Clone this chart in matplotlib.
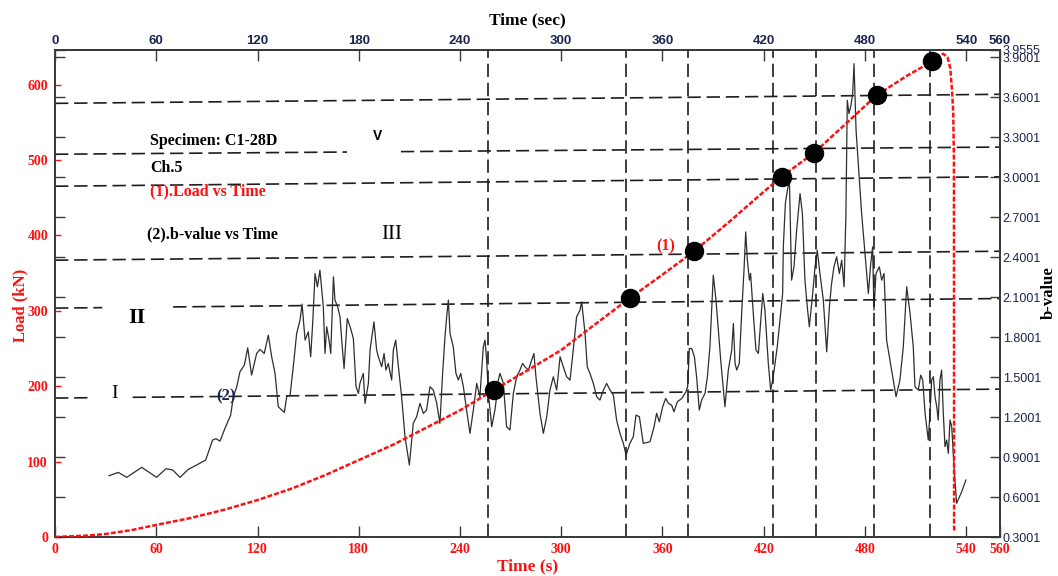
#!/usr/bin/env python3
# Load and b-value against time for specimen C1-28D (channel 5)

import matplotlib
matplotlib.use("Agg")
from matplotlib import pyplot as plt

# --------------------------------------------------------------------------
# data

# (1) load curve
load_time = [0, 10, 20, 30, 45, 60, 80, 100, 120, 140, 160, 180, 200, 220, 240,
             260.1, 280, 300, 320, 340.7, 360, 378.7, 400, 420, 430.6, 450, 470,
             486.9, 505, 519.9, 524, 526.4, 529, 530.5, 531.5, 532.3, 532.7,
             532.8, 534.5]
load_kn = [0, 1, 2, 4, 9, 16, 25, 36, 49, 64, 82, 102, 122, 145, 168,
           195, 221, 248, 282, 317, 348, 379, 419, 458, 478, 510, 551,
           586, 612, 631, 639, 641, 636, 622, 595, 562, 500,
           10, 10]

# points marked on the load curve
stage_time = [260.1, 340.7, 378.7, 430.6, 450.0, 486.9, 519.9]
stage_load = [195, 317, 379, 478, 510, 586, 631]

# vertical stage boundaries (s)
boundary_time = [256.4, 338.6, 375.3, 425.7, 451.0, 485.3, 518.5]

# b-value guide levels: value at t=0 and at t=560, plus an optional gap (s)
level_start = [3.555, 3.173, 2.933, 2.378, 2.018, 1.343]
level_end = [3.623, 3.227, 3.004, 2.445, 2.090, 1.410]
level_gap = [None, (173, 205), None, None, (28, 70), (22, 46)]

# (2) b-value curve
b_time = [32.0, 37.5, 42.5, 51.4, 60.2, 65.8, 69.7, 74.1, 79.0, 83.9, 89.3, 93.4,
          95.4, 97.8, 100.7, 104.1, 105.7, 107.7, 109.6, 112.2, 114.2, 116.5,
          119.5, 121.5, 124.0, 126.4, 128.4, 130.4, 132.3, 135.9, 137.3, 139.3,
          141.2, 143.2, 145.2, 146.4, 148.2, 150.1, 151.5, 152.7, 154.1, 155.5,
          157.0, 159.0, 160.0, 161.0, 162.4, 163.4, 165.0, 165.9, 167.5, 168.9,
          169.9, 171.3, 173.2, 175.2, 176.8, 178.4, 179.8,
          180.7, 182.7, 183.7, 185.7, 186.7, 189.0, 190.6, 191.6, 193.6, 195.0,
          196.1, 197.5, 199.5, 200.5, 201.9, 203.5, 205.4, 207.4, 210.0, 212.3,
          214.3, 216.3, 218.3, 220.2, 222.2, 224.2, 226.2, 228.1, 229.7, 231.1,
          232.1, 233.1, 234.1, 236.0, 237.6, 239.0, 240.4, 242.0, 243.9, 245.9,
          247.9, 249.9, 251.8, 253.8, 254.8, 255.8, 256.8, 258.8, 260.7, 261.7,
          262.7, 263.7, 265.7, 267.6, 269.6, 271.6, 273.6, 275.5, 277.1, 278.5,
          280.5, 282.5, 283.8, 285.0, 287.4, 289.4, 291.4, 293.3, 295.3, 297.3,
          299.3, 301.2, 303.2, 305.2, 307.1, 309.1, 311.1, 312.1, 314.1, 315.4,
          317.0, 319.0, 321.0, 322.9,
          325.0, 326.9, 328.9, 330.9, 332.8, 334.8, 336.8, 338.4, 340.7, 342.7,
          344.3, 346.3, 348.6, 352.6, 355.0, 356.5, 358.1, 360.1, 361.9, 363.5,
          365.4, 366.8, 368.8, 371.4, 373.9, 374.9, 375.9, 377.3, 378.9, 380.2,
          381.8, 383.2, 385.2, 386.6, 388.1, 390.1, 391.7, 393.1, 394.5, 396.1,
          397.0, 399.0, 401.0, 402.0, 403.0, 404.0, 405.5, 406.9, 408.3, 409.3,
          410.3, 411.5, 412.2, 413.8, 415.4, 416.8, 417.8, 419.4, 420.7, 422.7,
          424.1, 425.3, 426.7, 428.0, 429.6, 431.2, 431.6, 432.8, 434.0, 435.2,
          436.5, 437.9, 439.5, 441.5, 442.9, 444.4, 445.8, 447.0, 449.0, 450.4,
          451.7, 453.3, 455.3, 457.3, 458.9, 460.2, 461.6, 463.2, 464.8, 466.2,
          467.6, 468.7, 469.5, 470.5, 471.5, 472.7, 473.5, 474.7, 476.0, 478.0,
          480.0, 482.0, 483.4, 484.5, 485.3, 486.5, 488.5, 489.9, 491.3, 492.8,
          495.8, 498.4, 500.7, 502.7, 504.7, 506.7, 508.6, 509.6, 511.6, 513.0,
          514.2, 515.6, 517.5, 518.5, 519.5, 520.5, 521.5, 522.5, 523.4, 524.4,
          525.4, 526.4, 527.4, 528.4, 529.4, 530.4, 531.4, 532.3, 533.3, 534.3,
          537.3, 539.8]
b_value = [0.760, 0.785, 0.748, 0.823, 0.748, 0.813, 0.803, 0.748, 0.808, 0.840, 0.878, 1.028,
           1.038, 1.020, 1.115, 1.215, 1.353, 1.428, 1.540, 1.590, 1.720, 1.515,
           1.678, 1.708, 1.678, 1.815, 1.653, 1.528, 1.278, 1.235, 1.353, 1.365,
           1.578, 1.828, 1.928, 2.048, 1.778, 1.840, 1.653, 1.903, 2.278, 2.178,
           2.303, 2.028, 1.678, 1.878, 1.778, 1.678, 2.253, 2.078, 2.028, 1.953,
           1.778, 1.565, 1.940, 1.865, 1.790, 1.428, 1.378,
           1.453, 1.528, 1.303, 1.453, 1.703, 1.915, 1.703, 1.653, 1.578, 1.678,
           1.553, 1.603, 1.478, 1.703, 1.778, 1.578, 1.353, 1.053, 0.840, 1.153,
           1.203, 1.303, 1.228, 1.253, 1.428, 1.403, 1.303, 1.153, 1.528, 1.803,
           1.953, 2.078, 1.828, 1.728, 1.528, 1.478, 1.528, 1.428, 1.253, 1.078,
           1.253, 1.453, 1.353, 1.728, 1.778, 1.628, 1.378, 1.128, 1.253, 1.353,
           1.478, 1.528, 1.453, 1.128, 1.103, 1.378, 1.503, 1.553, 1.603, 1.578,
           1.553, 1.628, 1.678, 1.503, 1.228, 1.078, 1.203, 1.403, 1.503, 1.403,
           1.653, 1.578, 1.503, 1.478, 1.703, 1.953, 2.003, 2.065, 1.828, 1.578,
           1.528, 1.453, 1.353, 1.328,
           1.403, 1.453, 1.403, 1.365, 1.178, 1.078, 1.003, 0.915, 1.003, 1.053,
           1.215, 1.203, 1.003, 1.015, 1.128, 1.228, 1.165, 1.278, 1.340, 1.303,
           1.290, 1.240, 1.315, 1.340, 1.390, 1.428, 1.715, 1.715, 1.653, 1.503,
           1.253, 1.328, 1.378, 1.503, 1.728, 2.265, 2.078, 1.853, 1.628, 1.403,
           1.278, 1.553, 1.703, 1.903, 1.603, 1.553, 1.603, 1.978, 2.303, 2.590,
           2.378, 2.228, 2.278, 1.978, 1.703, 1.678, 1.853, 2.128, 2.003, 1.603,
           1.403, 1.478, 1.603, 1.728, 1.928, 2.128, 2.478, 2.803, 2.903, 2.978,
           2.228, 2.328, 2.603, 2.878, 2.728, 2.228, 2.028, 1.878, 2.128, 2.328,
           2.453, 2.278, 2.078, 1.690, 2.028, 2.203, 2.328, 2.403, 2.278, 2.378,
           2.178, 2.728, 3.578, 3.478, 3.528, 3.628, 3.853, 3.353, 3.103, 2.728,
           2.428, 2.128, 2.353, 2.478, 2.003, 2.278, 2.328, 2.228, 2.278, 1.778,
           1.553, 1.353, 1.478, 1.728, 2.178, 1.978, 1.728, 1.428, 1.403, 1.515,
           1.478, 1.228, 1.028, 1.228, 1.478, 1.503, 1.353, 1.278, 1.178, 1.478,
           1.553, 1.228, 0.978, 1.028, 0.928, 1.178, 1.128, 0.928, 0.728, 0.553,
           0.640, 0.728]

time_ticks = [0, 60, 120, 180, 240, 300, 360, 420, 480, 540, 560]
load_ticks = [0, 100, 200, 300, 400, 500, 600]
b_ticks = [0.3001, 0.6001, 0.9001, 1.2001, 1.5001, 1.8001, 2.1001, 2.4001,
           2.7001, 3.0001, 3.3001, 3.6001, 3.9001, 3.9555]

# --------------------------------------------------------------------------

SANS = "Liberation Sans"
SERIF = "Liberation Serif"
RED = "#ff1010"
NAVY = "#1c2550"
SPINE = "#3a3a3a"

plt.rcParams["font.family"] = SERIF

fig = plt.figure(figsize=(10.58, 5.76), dpi=100)
ax = fig.add_axes([55/1058, 39/576, 945/1058, 487/576])
ax2 = ax.twinx()
ax.set_zorder(ax2.get_zorder() + 1)
ax.patch.set_visible(False)

ax.set_xlim(0, 560)
ax.set_ylim(0, 646)
ax2.set_ylim(0.3001, 3.9555)

for a in (ax, ax2):
    for s in a.spines.values():
        s.set_color(SPINE)
        s.set_linewidth(1.3)

dash = (0, (8, 3.5))

# guide levels on the b-value scale
for b0, b1, gap in zip(level_start, level_end, level_gap):
    slope = (b1 - b0) / 560.0
    spans = [(0, 560)] if gap is None else [(0, gap[0]), (gap[1], 560)]
    for t0, t1 in spans:
        ax2.plot([t0, t1], [b0 + slope*t0, b0 + slope*t1], color="#1e1e1e",
                 lw=1.2, linestyle=dash, zorder=1)

# b-value curve
ax2.plot(b_time, b_value, color="#2e2e2e", lw=0.9, zorder=2)

# stage boundaries
for t in boundary_time:
    ax.axvline(t, color="#1e1e1e", lw=1.2, linestyle=dash, zorder=1)

# load curve and marked points
ax.plot(load_time, load_kn, color=RED, lw=1.8, linestyle=(0, (2, 0.8)), zorder=3)
ax.plot(stage_time, stage_load, "o", color="black", markersize=13, zorder=4)

# bottom axis
ax.set_xticks(time_ticks)
ax.tick_params(axis="x", direction="in", length=8, width=1, color=SPINE,
               labelcolor=RED, labelsize=10, pad=4)
for lab in ax.get_xticklabels():
    lab.set_fontweight("bold")
ax.set_xlabel("Time (s)", color=RED, fontsize=12.5, fontweight="bold", labelpad=2)

# left axis
ax.set_yticks(load_ticks)
ax.tick_params(axis="y", direction="in", length=4, width=1, color=RED,
               labelcolor=RED, labelsize=10, pad=5)
for lab in ax.get_yticklabels():
    lab.set_fontweight("bold")
fig.text(20/1058, 1 - 305/576, "Load (kN)", color=RED, fontsize=12, fontweight="bold",
         rotation=90, ha="center", va="center")

# top axis
top = ax.secondary_xaxis("top")
top.set_xticks(time_ticks)
top.tick_params(direction="in", length=8, width=1, color=SPINE, labelcolor=NAVY,
                labelsize=9.5, pad=2)
for lab in top.get_xticklabels():
    lab.set_family(SANS)
    lab.set_fontweight("bold")
top.spines["top"].set_color(SPINE)
top.spines["top"].set_linewidth(1.3)
top.set_xlabel("Time (sec)", fontsize=12.5, fontweight="bold", labelpad=8)

# right axis, ticks mirrored on the left spine
ax2.set_yticks(b_ticks)
ax2.set_yticklabels(["%.4f" % v for v in b_ticks])
ax2.tick_params(axis="y", direction="in", length=7, width=1, color=SPINE,
                labelcolor=NAVY, labelsize=9, pad=2, left=True)
for lab in ax2.get_yticklabels():
    lab.set_family(SANS)
fig.text(1049/1058, 1 - 293/576, "b-value", fontsize=12, fontweight="bold",
         rotation=90, ha="center", va="center")

# annotations
ax.text(56.3, 525, "Specimen: C1-28D", fontsize=11.5, fontweight="bold", va="center")
ax.text(56.3, 490, "Ch.5", fontsize=11.5, fontweight="bold", va="center")
ax.text(56.3, 459, "(1).Load vs Time", fontsize=11.5, fontweight="bold",
        color=RED, va="center")
ax.text(54.5, 401, "(2).b-value vs Time", fontsize=11.5, fontweight="bold", va="center")
ax.text(199.7, 401, "III", fontsize=15, ha="center", va="center")
ax.text(191.4, 532, "V", fontsize=10, fontweight="bold", family=SANS,
        ha="center", va="center")
ax.text(48.6, 291, "II", fontsize=16, fontweight="bold", ha="center", va="center")
ax.text(35.6, 190, "I", fontsize=14, ha="center", va="center")
ax.text(101.3, 187, "(2)", fontsize=12, fontweight="bold", color=NAVY,
        ha="center", va="center", zorder=5)
ax.text(362, 385, "(1)", fontsize=11.5, fontweight="bold", color=RED,
        ha="center", va="center")

fig.savefig("out.png", dpi=100, facecolor="white")
